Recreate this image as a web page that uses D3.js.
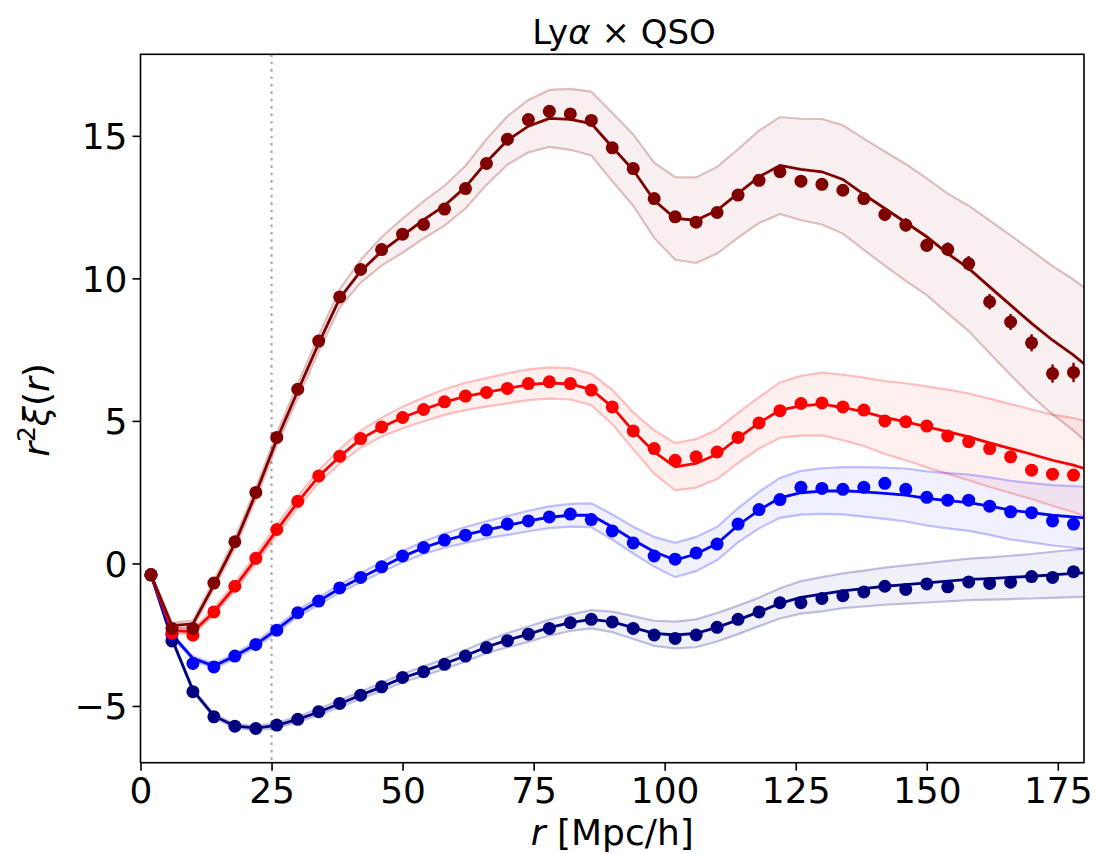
<!DOCTYPE html>
<html><head><meta charset="utf-8">
<script src="https://cdn.jsdelivr.net/npm/d3@7"></script>
<style>
html,body{margin:0;padding:0;background:#fff;}
svg{display:block;font-family:"DejaVu Sans",sans-serif;}
</style>
</head><body>
<svg id="chart" width="1096" height="854"></svg>
<script>
// ---------- data ----------
const rData  = [2,6,10,14,18,22,26,30,34,38,42,46,50,54,58,62,66,70,74,78,82,86,90,94,98,102,106,110,114,118,122,126,130,134,138,142,146,150,154,158,162,166,170,174,178];
const rModel = [2,6,10,14,18,22,26,30,34,38,42,46,50,54,58,62,66,70,74,78,82,86,90,94,98,102,106,110,114,118,122,126,130,134,138,142,146,150,154,158,162,166,170,174,178,182];

const darkredData  = [-0.40,-2.28,-2.28,-0.69,0.76,2.49,4.42,6.11,7.80,9.35,10.31,11.01,11.55,11.89,12.43,13.15,14.03,14.88,15.57,15.86,15.77,15.54,14.58,13.85,12.80,12.16,11.97,12.31,12.92,13.44,13.74,13.41,13.30,13.09,12.80,12.24,11.87,11.16,11.02,10.52,9.18,8.47,7.74,6.66,6.70];
const darkredErr   = [0.02,0.04,0.05,0.05,0.06,0.06,0.07,0.07,0.08,0.08,0.09,0.09,0.10,0.10,0.11,0.11,0.12,0.12,0.13,0.13,0.14,0.14,0.15,0.15,0.16,0.16,0.17,0.17,0.18,0.18,0.19,0.19,0.20,0.20,0.21,0.22,0.23,0.23,0.24,0.26,0.27,0.28,0.30,0.32,0.34];
const darkredModel = [-0.40,-2.18,-2.12,-0.75,0.70,2.45,4.35,6.05,7.72,9.30,10.25,10.95,11.50,12.05,12.55,13.20,14.08,14.84,15.34,15.61,15.58,15.43,14.61,13.80,12.74,12.10,12.04,12.39,12.98,13.56,13.96,13.82,13.74,13.47,12.95,12.45,11.96,11.46,10.87,10.35,9.70,9.06,8.42,7.83,7.31,6.70];
const darkredSigma = [0.03,0.10,0.12,0.15,0.18,0.20,0.22,0.25,0.28,0.32,0.40,0.50,0.60,0.65,0.70,0.75,0.80,0.85,0.92,1.00,1.07,1.12,1.20,1.25,1.32,1.45,1.50,1.52,1.55,1.62,1.70,1.78,1.85,1.90,1.95,2.00,2.05,2.05,2.10,2.20,2.33,2.45,2.55,2.60,2.65,2.70];

const redData  = [-0.40,-2.45,-2.52,-1.70,-0.80,0.18,1.19,2.18,3.07,3.76,4.38,4.79,5.12,5.40,5.67,5.87,6.00,6.14,6.31,6.37,6.31,6.08,5.49,4.65,4.03,3.62,3.74,3.91,4.42,4.93,5.36,5.61,5.63,5.49,5.38,5.00,4.97,4.82,4.47,4.27,4.03,3.74,3.27,3.13,3.10];
const redErr   = [0.02,0.03,0.04,0.04,0.04,0.05,0.05,0.05,0.06,0.06,0.06,0.07,0.07,0.07,0.08,0.08,0.08,0.09,0.09,0.09,0.10,0.10,0.10,0.11,0.11,0.11,0.12,0.12,0.12,0.13,0.13,0.13,0.14,0.14,0.14,0.15,0.15,0.15,0.16,0.16,0.17,0.17,0.18,0.18,0.19];
const redModel = [-0.40,-2.35,-2.40,-1.70,-0.82,0.15,1.17,2.15,3.05,3.75,4.36,4.78,5.12,5.40,5.66,5.86,6.00,6.14,6.27,6.33,6.30,6.10,5.49,4.65,3.91,3.39,3.51,3.83,4.40,4.93,5.38,5.53,5.59,5.47,5.32,5.12,4.97,4.79,4.62,4.44,4.23,4.03,3.83,3.62,3.45,3.22];
const redSigma = [0.03,0.08,0.10,0.12,0.14,0.16,0.18,0.20,0.22,0.25,0.30,0.33,0.38,0.42,0.45,0.48,0.50,0.53,0.54,0.55,0.55,0.55,0.60,0.65,0.76,0.83,0.85,0.87,0.88,0.90,0.97,1.05,1.10,1.15,1.20,1.28,1.35,1.42,1.48,1.52,1.55,1.56,1.57,1.60,1.65,1.68];

const blueData  = [-0.40,-2.50,-3.51,-3.63,-3.25,-2.84,-2.34,-1.73,-1.32,-0.86,-0.49,-0.12,0.26,0.56,0.82,0.99,1.17,1.38,1.49,1.63,1.73,1.54,1.14,0.72,0.26,0.15,0.37,0.68,1.38,1.89,2.24,2.67,2.63,2.60,2.67,2.81,2.60,2.32,2.22,2.22,2.01,1.81,1.78,1.49,1.38];
const blueErr   = [0.02,0.03,0.03,0.03,0.04,0.04,0.04,0.04,0.05,0.05,0.05,0.05,0.06,0.06,0.06,0.06,0.07,0.07,0.07,0.07,0.08,0.08,0.08,0.08,0.09,0.09,0.09,0.09,0.10,0.10,0.10,0.10,0.11,0.11,0.11,0.11,0.12,0.12,0.12,0.12,0.13,0.13,0.13,0.14,0.14];
const blueModel = [-0.40,-2.50,-3.33,-3.60,-3.25,-2.84,-2.32,-1.75,-1.32,-0.88,-0.50,-0.13,0.24,0.55,0.80,1.00,1.18,1.33,1.49,1.62,1.69,1.69,1.28,0.82,0.41,0.12,0.33,0.70,1.34,1.87,2.30,2.48,2.54,2.55,2.51,2.46,2.40,2.28,2.20,2.13,2.01,1.87,1.78,1.69,1.63,1.57];
const blueSigma = [0.02,0.05,0.07,0.08,0.09,0.10,0.11,0.12,0.13,0.14,0.16,0.18,0.20,0.22,0.25,0.28,0.30,0.33,0.36,0.38,0.40,0.42,0.44,0.47,0.52,0.60,0.60,0.58,0.60,0.64,0.70,0.77,0.80,0.83,0.87,0.90,0.93,0.95,0.97,0.99,1.01,1.03,1.04,1.06,1.08,1.10];

const navyData  = [-0.40,-2.72,-4.50,-5.38,-5.71,-5.79,-5.67,-5.47,-5.20,-4.91,-4.62,-4.33,-4.00,-3.80,-3.54,-3.25,-2.95,-2.71,-2.48,-2.28,-2.08,-1.96,-2.05,-2.28,-2.51,-2.63,-2.51,-2.24,-1.96,-1.70,-1.38,-1.38,-1.23,-1.13,-1.00,-0.80,-0.91,-0.72,-0.82,-0.65,-0.70,-0.66,-0.46,-0.49,-0.29];
const navyErr   = [0.01,0.02,0.02,0.02,0.03,0.03,0.03,0.03,0.03,0.04,0.04,0.04,0.04,0.04,0.05,0.05,0.05,0.05,0.05,0.06,0.06,0.06,0.06,0.06,0.07,0.07,0.07,0.07,0.07,0.08,0.08,0.08,0.08,0.08,0.09,0.09,0.09,0.09,0.09,0.10,0.10,0.10,0.10,0.10,0.11];
const navyModel = [-0.40,-2.65,-4.45,-5.35,-5.70,-5.78,-5.68,-5.47,-5.21,-4.92,-4.62,-4.33,-4.02,-3.78,-3.52,-3.24,-2.93,-2.69,-2.48,-2.25,-2.08,-1.96,-2.05,-2.25,-2.45,-2.51,-2.45,-2.24,-1.98,-1.70,-1.40,-1.19,-1.08,-0.96,-0.88,-0.80,-0.74,-0.68,-0.62,-0.56,-0.53,-0.49,-0.45,-0.40,-0.35,-0.31];
const navySigma = [0.02,0.04,0.05,0.06,0.07,0.08,0.09,0.10,0.11,0.12,0.13,0.14,0.15,0.16,0.18,0.20,0.22,0.25,0.27,0.28,0.29,0.32,0.36,0.40,0.44,0.47,0.49,0.50,0.50,0.50,0.53,0.57,0.60,0.61,0.63,0.65,0.67,0.69,0.71,0.73,0.74,0.76,0.78,0.81,0.83,0.85];

const xTicks = [0,25,50,75,100,125,150,175];
const yTicks = [-5,0,5,10,15];
const vLineR = 25;

// ---------- layout ----------
const svg = d3.select("#chart");
const M = {left:140.5, right:1084, top:54.3, bottom:762.7};
const x = d3.scaleLinear().domain([0,180]).range([M.left, M.right]);
const y = d3.scaleLinear().domain([-6.99,17.86]).range([M.bottom, M.top]);

const series = [
  {color:"#000080", data:navyData, err:navyErr, model:navyModel, sigma:navySigma},
  {color:"#0000ff", data:blueData, err:blueErr, model:blueModel, sigma:blueSigma},
  {color:"#ff0000", data:redData, err:redErr, model:redModel, sigma:redSigma},
  {color:"#800000", data:darkredData, err:darkredErr, model:darkredModel, sigma:darkredSigma}
];

svg.append("defs").append("clipPath").attr("id","clip")
  .append("rect").attr("x",M.left).attr("y",M.top)
  .attr("width",M.right-M.left).attr("height",M.bottom-M.top);

// vertical dotted line
svg.append("line")
  .attr("x1",x(vLineR)).attr("x2",x(vLineR))
  .attr("y1",M.top).attr("y2",M.bottom)
  .attr("stroke","#a8a8a8").attr("stroke-width",2.2)
  .attr("stroke-dasharray","2.6,4.8");

const plot = svg.append("g").attr("clip-path","url(#clip)");

// bands
series.forEach(s => {
  const pts = rModel.map((r,i)=>({r, m:s.model[i], e:s.sigma[i]}));
  plot.append("path").datum(pts)
    .attr("d", d3.area().x(d=>x(d.r)).y0(d=>y(d.m-d.e)).y1(d=>y(d.m+d.e)))
    .attr("fill", s.color).attr("fill-opacity",0.06).attr("stroke","none");
  [1,-1].forEach(sg=>{
    plot.append("path").datum(pts)
      .attr("d", d3.line().x(d=>x(d.r)).y(d=>y(d.m+sg*d.e)))
      .attr("fill","none").attr("stroke",s.color).attr("stroke-opacity",0.24).attr("stroke-width",2.2);
  });
});

// model lines, error bars, markers
series.forEach(s => {
  const pts = rModel.map((r,i)=>({r, m:s.model[i]}));
  plot.append("path").datum(pts)
    .attr("d", d3.line().x(d=>x(d.r)).y(d=>y(d.m)))
    .attr("fill","none").attr("stroke",s.color).attr("stroke-width",2.8);
  const dp = rData.map((r,i)=>({r, v:s.data[i], e:s.err[i]}));
  const g = svg.append("g");
  g.selectAll("line.eb").data(dp).join("line")
    .attr("x1",d=>x(d.r)).attr("x2",d=>x(d.r))
    .attr("y1",d=>y(d.v-d.e)).attr("y2",d=>y(d.v+d.e))
    .attr("stroke",s.color).attr("stroke-width",2.4);
  g.selectAll("circle").data(dp).join("circle")
    .attr("cx",d=>x(d.r)).attr("cy",d=>y(d.v)).attr("r",6.5)
    .attr("fill",s.color);
});

// axes
const fmt = d => d<0 ? "\u2212"+Math.abs(d) : String(d);
const xAxis = svg.append("g").attr("transform",`translate(0,${M.bottom})`)
  .call(d3.axisBottom(x).tickValues(xTicks).tickFormat(fmt).tickSize(8).tickPadding(6.5));
const yAxis = svg.append("g").attr("transform",`translate(${M.left},0)`)
  .call(d3.axisLeft(y).tickValues(yTicks).tickFormat(fmt).tickSize(8).tickPadding(5));
[xAxis,yAxis].forEach(a=>{
  a.select(".domain").remove();
  a.selectAll(".tick line").attr("stroke","#000").attr("stroke-width",1.6);
  a.selectAll(".tick text").attr("font-size",36).attr("font-family","DejaVu Sans").attr("fill","#000");
});
yAxis.selectAll(".tick text").attr("dy","0.36em");

// frame
svg.append("rect").attr("x",M.left).attr("y",M.top)
  .attr("width",M.right-M.left).attr("height",M.bottom-M.top)
  .attr("fill","none").attr("stroke","#000").attr("stroke-width",1.6);

// title
const title = svg.append("text").attr("x",624).attr("y",44)
  .attr("text-anchor","middle").attr("font-size",34).attr("fill","#000");
title.append("tspan").text("Ly");
title.append("tspan").attr("font-style","italic").text("\u03b1");
title.append("tspan").text(" \u00d7 QSO");

// x label
const xl = svg.append("text").attr("x",(M.left+M.right)/2).attr("y",845)
  .attr("text-anchor","middle").attr("font-size",36).attr("fill","#000");
xl.append("tspan").attr("font-style","italic").text("r");
xl.append("tspan").text(" [Mpc/h]");

// y label
const yl = svg.append("text").attr("transform","translate(49,410) rotate(-90)")
  .attr("text-anchor","middle").attr("font-size",36).attr("fill","#000");
yl.append("tspan").attr("font-style","italic").text("r");
yl.append("tspan").attr("font-size",25).attr("dy",-14).text("2");
yl.append("tspan").attr("font-style","italic").attr("dy",14).text("\u03be");
yl.append("tspan").text("(");
yl.append("tspan").attr("font-style","italic").text("r");
yl.append("tspan").text(")");
</script>
</body></html>
